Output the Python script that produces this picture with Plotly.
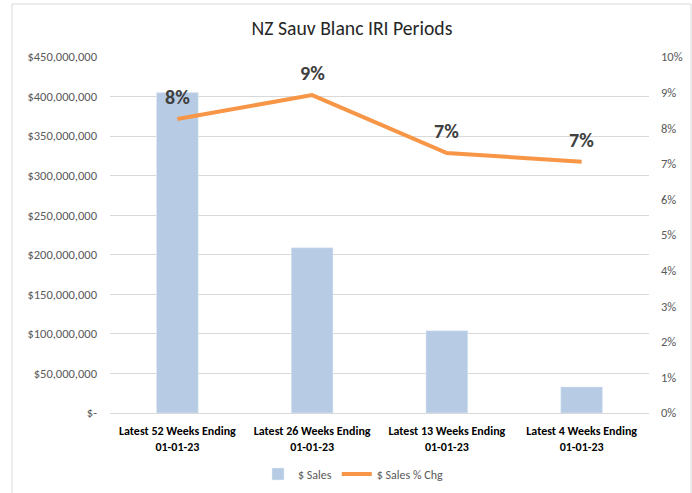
import plotly.graph_objects as go

categories = ["Latest 52 Weeks Ending<br>01-01-23", "Latest 26 Weeks Ending<br>01-01-23",
              "Latest 13 Weeks Ending<br>01-01-23", "Latest 4 Weeks Ending<br>01-01-23"]
sales = [405000000, 209000000, 104000000, 33000000]
pct_chg = [0.0826, 0.0893, 0.0730, 0.0706]
pct_labels = ["8%", "9%", "7%", "7%"]
left_tickvals = [0, 50e6, 100e6, 150e6, 200e6, 250e6, 300e6, 350e6, 400e6, 450e6]
left_ticktext = ["$-", "$50,000,000", "$100,000,000", "$150,000,000", "$200,000,000",
                 "$250,000,000", "$300,000,000", "$350,000,000", "$400,000,000", "$450,000,000"]

FONT = "Carlito, Lato, sans-serif"

W, H = 692, 493
L, R, T, B = 110, 649, 57, 413  # plot area in pixels
PW, PH = R - L, B - T

fig = go.Figure()
fig.add_trace(go.Bar(x=categories, y=sales, name="$ Sales", marker_color="#b7cce4",
                     width=0.31, yaxis="y"))
fig.add_trace(go.Scatter(x=categories, y=pct_chg, name="$ Sales % Chg", mode="lines",
                         line=dict(color="#f79646", width=4), yaxis="y2"))

for c, v, t in zip(categories, pct_chg, pct_labels):
    fig.add_annotation(x=c, y=v, xref="x", yref="y2", text=t, showarrow=False,
                       yshift=22, font=dict(family=FONT, size=20, color="#404040", weight="bold"))

fig.update_layout(
    width=W, height=H,
    margin=dict(l=L, r=W - R, t=T, b=H - B, autoexpand=False),
    paper_bgcolor="white", plot_bgcolor="white",
    title=dict(text="NZ Sauv Blanc IRI Periods", x=352 / W, xanchor="center", y=1 - 28 / H,
               yanchor="middle", font=dict(family=FONT, size=19.7, color="#262626")),
    font=dict(family=FONT, size=12, color="#595959"),
    xaxis=dict(showgrid=False, showline=True, linecolor="#d9d9d9", linewidth=1,
               tickfont=dict(family=FONT, size=12, color="#000000", weight="bold"),
               ticks="", range=[-0.5, 3.5], automargin=False, ticklabelstandoff=7),
    yaxis=dict(range=[0, 450e6], tickvals=left_tickvals, ticktext=left_ticktext,
               showgrid=True, gridcolor="#d9d9d9", gridwidth=1, zeroline=False,
               tickfont=dict(family=FONT, size=12.5, color="#595959"), ticklabelstandoff=12,
               automargin=False),
    yaxis2=dict(range=[0, 0.10], overlaying="y", side="right", tickformat=".0%",
                dtick=0.01, showgrid=False, zeroline=False, automargin=False,
                tickfont=dict(family=FONT, size=12.5, color="#595959"), ticklabelstandoff=11),
    legend=dict(orientation="h", x=(258 - L) / PW, xanchor="left", y=-(474 - B) / PH,
                yanchor="middle", font=dict(family=FONT, size=12, color="#595959")),
    showlegend=True,
)

fig.add_shape(type="rect", xref="paper", yref="paper",
              x0=-(L - 12) / PW, x1=1 + (691 - R) / PW,
              y0=-(500 - B) / PH, y1=1 + (T - 4) / PH,
              line=dict(color="#d9d9d9", width=1), fillcolor="rgba(0,0,0,0)", layer="below")

fig.write_html("out.html", config={"displayModeBar": False},
               post_script="document.body.style.margin='0';")
